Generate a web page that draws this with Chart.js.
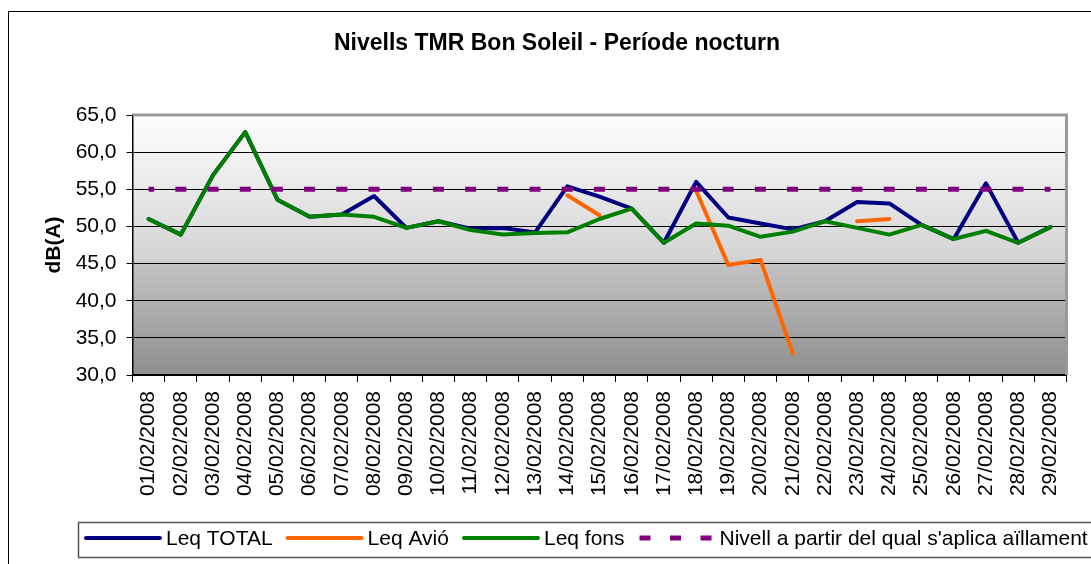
<!DOCTYPE html>
<html>
<head>
<meta charset="utf-8">
<script src="https://cdn.jsdelivr.net/npm/chart.js@4.4.0/dist/chart.umd.min.js"></script>
<style>
  html, body { margin: 0; padding: 0; background: #fff; }
</style>
</head>
<body>
<canvas id="grafico" width="1091" height="564"></canvas>
<script>
const dies = ["01/02/2008","02/02/2008","03/02/2008","04/02/2008","05/02/2008","06/02/2008","07/02/2008",
  "08/02/2008","09/02/2008","10/02/2008","11/02/2008","12/02/2008","13/02/2008","14/02/2008","15/02/2008",
  "16/02/2008","17/02/2008","18/02/2008","19/02/2008","20/02/2008","21/02/2008","22/02/2008","23/02/2008",
  "24/02/2008","25/02/2008","26/02/2008","27/02/2008","28/02/2008","29/02/2008"];

const leqTotal = [51.0, 48.9, 56.9, 62.7, 53.6, 51.3, 51.6, 54.1, 49.8, 50.7, 49.7, 49.8, 49.2, 55.4, 54.0,
  52.4, 47.8, 56.0, 51.2, 50.4, 49.6, 50.7, 53.3, 53.1, 50.2, 48.3, 55.8, 47.8, 49.9];
const leqAvio = [null, null, null, null, null, null, null, null, null, null, null, null, null, 54.2, 51.5,
  null, null, 54.8, 44.8, 45.5, 32.9, null, 50.7, 51.0, null, null, null, null, null];
const leqFons = [51.0, 48.9, 56.9, 62.7, 53.6, 51.3, 51.6, 51.3, 49.8, 50.7, 49.5, 48.9, 49.1, 49.2, 51.0,
  52.4, 47.8, 50.4, 50.1, 48.6, 49.3, 50.7, 49.8, 48.9, 50.2, 48.3, 49.4, 47.8, 49.9];
const nivell = [55, 55, 55, 55, 55, 55, 55, 55, 55, 55, 55, 55, 55, 55, 55,
  55, 55, 55, 55, 55, 55, 55, 55, 55, 55, 55, 55, 55, 55];

const titol = "Nivells TMR Bon Soleil - Període nocturn";
const titolY = "dB(A)";
const yMin = 30, yMax = 65, yPas = 5;

const FONT = "'Liberation Sans', Arial, sans-serif";

// fons: marc exterior, degradat de l'area i titol
const fons = {
  id: 'fons',
  beforeDraw(chart) {
    const {ctx, chartArea: a} = chart;
    ctx.save();
    ctx.fillStyle = '#fff';
    ctx.fillRect(0, 0, chart.width, chart.height);
    const g = ctx.createLinearGradient(0, a.top, 0, a.bottom);
    g.addColorStop(0, '#fefefe');
    g.addColorStop(0.55, '#d4d4d4');
    g.addColorStop(0.58, '#c2c2c2');
    g.addColorStop(1, '#8e8e8e');
    ctx.fillStyle = g;
    ctx.fillRect(a.left, a.top, a.right - a.left, a.bottom - a.top);
    ctx.strokeStyle = '#000';
    ctx.lineWidth = 1;
    ctx.strokeRect(8.5, 11.5, 1200, 700);
    ctx.fillStyle = '#000';
    ctx.font = 'bold 23px ' + FONT;
    ctx.textAlign = 'center';
    ctx.textBaseline = 'middle';
    ctx.fillText(titol, 557, 44);
    ctx.restore();
  },
  beforeDatasetsDraw(chart) {
    const {ctx, chartArea: a} = chart;
    ctx.save();
    ctx.strokeStyle = '#9a9a9a';
    ctx.lineWidth = 3;
    ctx.beginPath();
    ctx.moveTo(a.left, a.top);
    ctx.lineTo(a.right, a.top);
    ctx.lineTo(a.right, a.bottom);
    ctx.stroke();
    ctx.restore();
  }
};

// llegenda en una sola fila dins d'un requadre
const llegenda = {
  id: 'llegenda',
  afterDraw(chart) {
    const ctx = chart.ctx;
    ctx.save();
    ctx.strokeStyle = '#555';
    ctx.lineWidth = 1.5;
    ctx.strokeRect(78.5, 522.5, 1100, 35);
    ctx.font = '21px ' + FONT;
    ctx.textBaseline = 'middle';
    ctx.fillStyle = '#000';
    let x = 84;
    const y = 538;
    chart.data.datasets.forEach(ds => {
      ctx.beginPath();
      ctx.strokeStyle = ds.borderColor;
      if (ds.borderDash) {
        ctx.lineWidth = 5;
        ctx.lineCap = 'butt';
        ctx.setLineDash([11, 19.5]);
      } else {
        ctx.lineWidth = 4;
        ctx.lineCap = 'round';
        ctx.setLineDash([]);
      }
      ctx.moveTo(x + 2, y);
      ctx.lineTo(x + 76, y);
      ctx.stroke();
      ctx.setLineDash([]);
      ctx.fillText(ds.label, x + 82, y + 1);
      x += 82 + ctx.measureText(ds.label).width + 13;
    });
    ctx.restore();
  }
};

const linia = {
  borderWidth: 4,
  pointRadius: 0,
  pointHoverRadius: 0,
  borderCapStyle: 'round',
  borderJoinStyle: 'round',
  tension: 0,
  fill: false
};

new Chart(document.getElementById('grafico'), {
  type: 'line',
  data: {
    labels: dies,
    datasets: [
      Object.assign({label: 'Leq TOTAL', data: leqTotal, borderColor: '#000080', backgroundColor: '#000080', order: 4}, linia),
      Object.assign({label: 'Leq Avió', data: leqAvio, borderColor: '#FF6600', backgroundColor: '#FF6600', order: 3, spanGaps: false}, linia),
      Object.assign({label: 'Leq fons', data: leqFons, borderColor: '#008000', backgroundColor: '#008000', order: 2}, linia),
      Object.assign({}, linia, {
        label: "Nivell a partir del qual s'aplica aïllament", data: nivell,
        borderColor: '#800080', backgroundColor: '#800080', order: 1,
        borderWidth: 5, borderDash: [11, 21.2], borderDashOffset: 5.5, borderCapStyle: 'butt'
      })
    ]
  },
  options: {
    responsive: false,
    devicePixelRatio: 1,
    animation: false,
    layout: { padding: { left: 30, right: 24.5, top: 115, bottom: 68 } },
    plugins: {
      legend: { display: false },
      title: { display: false },
      tooltip: { enabled: false }
    },
    scales: {
      x: {
        offset: true,
        grid: { drawOnChartArea: false, drawTicks: true, tickLength: 7, color: '#000', offset: true },
        border: { color: '#000', width: 2 },
        ticks: {
          autoSkip: false, minRotation: 90, maxRotation: 90, padding: 9,
          color: '#000', font: { family: FONT, size: 21 }
        },
        afterFit(s) { s.height = 121; }
      },
      y: {
        min: yMin,
        max: yMax,
        grid: { color: '#000', lineWidth: 1, tickLength: 6 },
        border: { color: '#000', width: 1.5 },
        ticks: {
          stepSize: yPas, padding: 10, color: '#000',
          font: { family: FONT, size: 21 },
          callback: v => v.toFixed(1).replace('.', ',')
        },
        title: {
          display: true, text: titolY, color: '#000',
          font: { family: FONT, size: 21, weight: 'bold' },
          padding: { top: 12, bottom: 0 }
        },
        afterFit(s) { s.width = 102.5; }
      }
    }
  },
  plugins: [fons, llegenda]
});
</script>
</body>
</html>
